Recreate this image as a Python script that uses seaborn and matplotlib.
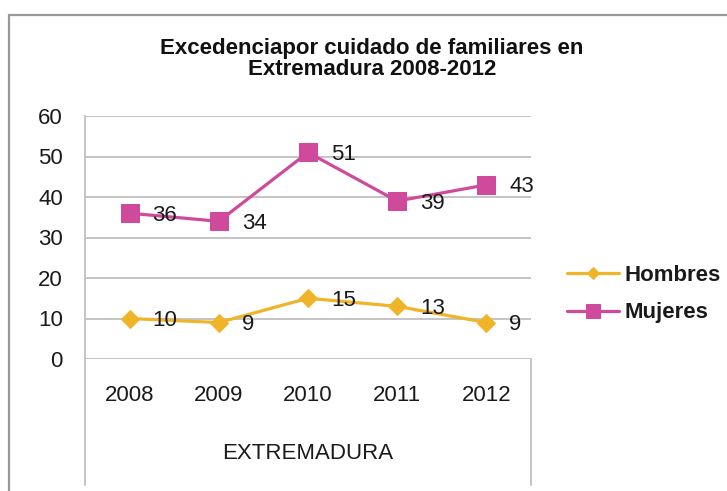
import matplotlib
matplotlib.use("Agg")
import matplotlib.pyplot as plt
from matplotlib.lines import Line2D
import seaborn as sns
import pandas as pd

# ---- data ----
years = ["2008", "2009", "2010", "2011", "2012"]
hombres = [10, 9, 15, 13, 9]
mujeres = [36, 34, 51, 39, 43]
series_names = ["Hombres", "Mujeres"]
y_ticks = [0, 10, 20, 30, 40, 50, 60]
title_text = "Excedenciapor cuidado de familiares en\nExtremadura 2008-2012"
x_label = "EXTREMADURA"

df = pd.DataFrame({
    "year": years * 2,
    "value": hombres + mujeres,
    "serie": [series_names[0]] * len(years) + [series_names[1]] * len(years),
})

sns.set_theme(style="white")
plt.rcParams["font.family"] = ["Liberation Sans", "DejaVu Sans"]

W, H = 727, 491
fig = plt.figure(figsize=(W / 100, H / 100), dpi=100)
ax = fig.add_axes([85 / W, 1 - 359 / H, (531 - 85) / W, (359 - 116) / H])

colors = {"Hombres": "#F0B429", "Mujeres": "#D04A9C"}
markers = {"Hombres": "D", "Mujeres": "s"}
msizes = {"Hombres": 8.8, "Mujeres": 12.5}

for name in series_names:
    sub = df[df["serie"] == name]
    sns.lineplot(data=sub, x="year", y="value", ax=ax, color=colors[name],
                 marker=markers[name], markersize=msizes[name],
                 markeredgecolor=colors[name], markerfacecolor=colors[name],
                 linewidth=2.3, label=name, zorder=3, clip_on=False)
    for xi, v in enumerate(sub["value"].tolist()):
        ax.annotate(str(v), (xi, v), xytext=(16.5, -1.5), textcoords="offset points",
                    ha="left", va="center", fontsize=16, color="#1a1a1a", zorder=4)

ax.set_xlim(-0.5, len(years) - 0.5)
ax.set_ylim(0, 60)
ax.set_yticks(y_ticks)
ax.grid(axis="y", color="#C4C4C4", linewidth=1.4)
ax.grid(axis="x", visible=False)
ax.set_axisbelow(True)
for s in ["top", "right", "bottom"]:
    ax.spines[s].set_visible(False)
ax.spines["left"].set_color("#C4C4C4")
ax.spines["left"].set_linewidth(1.4)
ax.tick_params(axis="y", length=0, pad=16, labelsize=16, labelcolor="#1a1a1a")
ax.tick_params(axis="x", length=0, pad=19, labelsize=16, labelcolor="#1a1a1a")
ax.set_ylabel("")
ax.set_xlabel(x_label, fontsize=16, color="#1a1a1a")
ax.xaxis.set_label_coords(0.5, -0.345)

# multi-level category box lines below the axis
for xa in (0, 1):
    ax.plot([xa, xa], [0, -(485 - 359) / (359 - 116)], transform=ax.transAxes,
            color="#C4C4C4", linewidth=1.4, clip_on=False)

# legend
leg = ax.legend(loc="center left", bbox_to_anchor=(567 / W, 1 - 294 / H),
                bbox_transform=fig.transFigure, frameon=False, borderpad=0,
                borderaxespad=0, handlelength=2.35, handletextpad=0.25,
                labelspacing=0.75, prop={"size": 16, "weight": "bold"})
for t in leg.get_texts():
    t.set_color("#1a1a1a")
for h, ms in zip(leg.legend_handles, [6.5, 10.5]):
    h.set_markersize(ms)

# title
fig.text(372 / W, 1 - 59 / H, title_text, ha="center", va="center",
         fontsize=16, fontweight="bold", linespacing=1.05, color="#111111")

# outer chart border (left & top visible)
fig.add_artist(Line2D([9 / W, 9 / W], [0, 1 - 15 / H], transform=fig.transFigure,
                      color="#999999", linewidth=1.6))
fig.add_artist(Line2D([9 / W, 1], [1 - 15 / H, 1 - 15 / H], transform=fig.transFigure,
                      color="#999999", linewidth=1.6))

fig.savefig("out.png", dpi=100, facecolor="white")
